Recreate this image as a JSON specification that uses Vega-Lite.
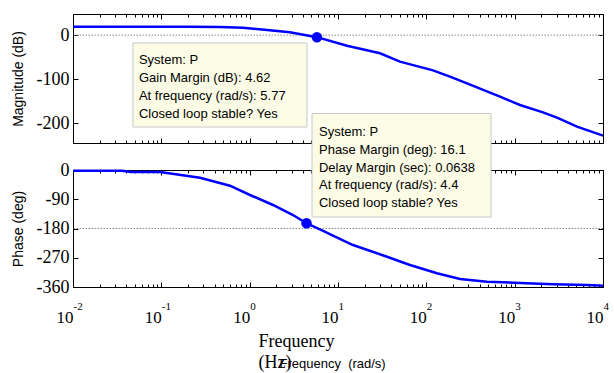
{
  "$schema": "https://vega.github.io/schema/vega-lite/v6.json",
  "autosize": {"type": "none"},
  "padding": {"left": 73, "top": 14, "right": 541, "bottom": 359},
  "background": "white",
  "bounds": "flush",
  "spacing": 27,
  "config": {
    "view": {"stroke": "black", "strokeWidth": 1},
    "axis": {"grid": false, "domain": false, "labelColor": "black", "titleColor": "black", "tickColor": "black", "tickWidth": 1, "labelFlush": false, "labelOverlap": false, "labelBound": false}
  },
  "datasets": {
    "mag": [
      {"f": 0.01, "db": 19.2}, {"f": 0.03, "db": 19.2}, {"f": 0.1, "db": 19.1}, {"f": 0.2, "db": 19.0},
      {"f": 0.461, "db": 18.4}, {"f": 0.84, "db": 16.9}, {"f": 1.571, "db": 11.7}, {"f": 2.86, "db": 6.5},
      {"f": 5.77, "db": -4.62}, {"f": 12.65, "db": -24}, {"f": 29.9, "db": -41.3}, {"f": 50.3, "db": -60.3},
      {"f": 119, "db": -80}, {"f": 185, "db": -94.3}, {"f": 288.7, "db": -109.4}, {"f": 682, "db": -139.8},
      {"f": 1149, "db": -158.7}, {"f": 2093, "db": -175.3}, {"f": 3014, "db": -187.5}, {"f": 5078, "db": -208},
      {"f": 10000, "db": -228.4}
    ],
    "phase": [
      {"f": 0.01, "deg": -2}, {"f": 0.036, "deg": -2}, {"f": 0.045, "deg": -6}, {"f": 0.097, "deg": -6.5},
      {"f": 0.274, "deg": -23.7}, {"f": 0.598, "deg": -48.3}, {"f": 1.009, "deg": -76.9}, {"f": 1.837, "deg": -107.7},
      {"f": 3.094, "deg": -138.5}, {"f": 4.4, "deg": -163.9}, {"f": 6.25, "deg": -183}, {"f": 8.77, "deg": -202},
      {"f": 14.79, "deg": -230.8}, {"f": 35.86, "deg": -266.8}, {"f": 65.3, "deg": -292.3}, {"f": 132.1, "deg": -317.8},
      {"f": 240.5, "deg": -335.4}, {"f": 486, "deg": -343.7}, {"f": 738, "deg": -345.5}, {"f": 1379, "deg": -348.6},
      {"f": 2716, "deg": -351.7}, {"f": 6590, "deg": -353.8}, {"f": 10000, "deg": -356}
    ],
    "gm": [{"f": 5.77, "db": -4.62}],
    "pm": [{"f": 4.4, "deg": -163.9}],
    "gmbox": [{"f1": 0.0477, "f2": 4.457, "top": -17.9, "bottom": -208.7}],
    "gmtext": [{"f": 0.0558, "v": -43.5, "label": "System: P\nGain Margin (dB): 4.62\nAt frequency (rad/s): 5.77\nClosed loop stable? Yes"}],
    "pmbox": [{"f1": 5.08, "f2": 540, "top": 173.8, "bottom": -144.6}],
    "pmtext": [{"f": 6.09, "v": 134.2, "label": "System: P\nPhase Margin (deg): 16.1\nDelay Margin (sec): 0.0638\nAt frequency (rad/s): 4.4\nClosed loop stable? Yes"}]
  },
  "vconcat": [
    {
      "width": 530,
      "height": 129,
      "resolve": {"scale": {"x": "shared", "y": "shared"}, "axis": {"x": "independent", "y": "independent"}},
      "layer": [
        {
          "data": {"values": [{"ref": 0}]},
          "mark": {"type": "rule", "color": "#8c8c8c", "strokeWidth": 1, "strokeDash": [1.5, 1.5]},
          "encoding": {"y": {"field": "ref", "type": "quantitative", "scale": {"domain": [-245, 48], "nice": false, "zero": false}, "axis": null}}
        },
        {
          "data": {"name": "mag"},
          "mark": {"type": "line", "color": "#0000ff", "strokeWidth": 2.5},
          "encoding": {
            "x": {"field": "f", "type": "quantitative", "scale": {"type": "log", "domain": [0.01, 10000], "nice": false},
              "axis": {"orient": "bottom", "labels": false, "title": null, "offset": -5, "tickSize": 5,
                "values": [0.01, 0.1, 1, 10, 100, 1000, 10000]}},
            "y": {"field": "db", "type": "quantitative", "scale": {"domain": [-245, 48], "nice": false, "zero": false},
              "axis": {"orient": "left", "values": [0, -100, -200], "offset": -5, "tickSize": 5, "labelExpr": "'' + datum.value",
                "labelFont": "Liberation Serif", "labelFontSize": 18, "labelPadding": 4,
                "title": "Magnitude (dB)", "titleFont": "Liberation Sans", "titleFontSize": 14, "titleFontWeight": "normal", "titlePadding": 11}}
          }
        },
        {
          "data": {"name": "gm"},
          "mark": {"type": "circle", "color": "#0000ff", "size": 110, "opacity": 1},
          "encoding": {
            "x": {"field": "f", "type": "quantitative", "scale": {"type": "log", "domain": [0.01, 10000], "nice": false},
              "axis": {"orient": "top", "labels": false, "title": null, "offset": -5, "tickSize": 5,
                "values": [0.01, 0.1, 1, 10, 100, 1000, 10000]}},
            "y": {"field": "db", "type": "quantitative", "scale": {"domain": [-245, 48], "nice": false, "zero": false},
              "axis": {"orient": "right", "values": [0, -100, -200], "labels": false, "offset": -5, "tickSize": 5, "title": null}}
          }
        },
        {
          "data": {"name": "gmbox"},
          "mark": {"type": "rect", "fill": "#fcfce6", "stroke": "#c8c8c8", "strokeWidth": 1},
          "encoding": {
            "x": {"field": "f1", "type": "quantitative", "scale": {"type": "log", "domain": [0.01, 10000], "nice": false},
              "axis": {"orient": "bottom", "labels": false, "title": null, "offset": -3, "tickSize": 3,
                "values": [0.02,0.03,0.04,0.05,0.06,0.07,0.08,0.09,0.2,0.3,0.4,0.5,0.6,0.7,0.8,0.9,2,3,4,5,6,7,8,9,20,30,40,50,60,70,80,90,200,300,400,500,600,700,800,900,2000,3000,4000,5000,6000,7000,8000,9000]}},
            "x2": {"field": "f2"},
            "y": {"field": "top", "type": "quantitative", "scale": {"domain": [-245, 48], "nice": false, "zero": false}, "axis": null},
            "y2": {"field": "bottom"}
          }
        },
        {
          "data": {"name": "gmtext"},
          "mark": {"type": "text", "align": "left", "baseline": "top", "font": "Liberation Sans", "fontSize": 13, "lineBreak": "\n", "lineHeight": 17.8, "color": "black"},
          "encoding": {
            "x": {"field": "f", "type": "quantitative", "scale": {"type": "log", "domain": [0.01, 10000], "nice": false},
              "axis": {"orient": "top", "labels": false, "title": null, "offset": -3, "tickSize": 3,
                "values": [0.02,0.03,0.04,0.05,0.06,0.07,0.08,0.09,0.2,0.3,0.4,0.5,0.6,0.7,0.8,0.9,2,3,4,5,6,7,8,9,20,30,40,50,60,70,80,90,200,300,400,500,600,700,800,900,2000,3000,4000,5000,6000,7000,8000,9000]}},
            "y": {"field": "v", "type": "quantitative", "scale": {"domain": [-245, 48], "nice": false, "zero": false}, "axis": null},
            "text": {"field": "label"}
          }
        }
      ]
    },
    {
      "width": 530,
      "height": 117,
      "resolve": {"scale": {"x": "shared", "y": "shared"}, "axis": {"x": "independent", "y": "independent"}},
      "layer": [
        {
          "data": {"values": [{"ref": -180}]},
          "mark": {"type": "rule", "color": "#8c8c8c", "strokeWidth": 1, "strokeDash": [1.5, 1.5]},
          "encoding": {"y": {"field": "ref", "type": "quantitative", "scale": {"domain": [-360, 0], "nice": false, "zero": false}, "axis": null}}
        },
        {
          "data": {"name": "phase"},
          "mark": {"type": "line", "color": "#0000ff", "strokeWidth": 2.5},
          "encoding": {
            "x": {"field": "f", "type": "quantitative", "scale": {"type": "log", "domain": [0.01, 10000], "nice": false},
              "axis": {"orient": "bottom", "values": [0.01, 0.1, 1, 10, 100, 1000, 10000], "offset": -5, "tickSize": 5, "labelExpr": "'10'",
                "labelFont": "Liberation Serif", "labelFontSize": 17, "labelAlign": "right", "labelDx": 2, "labelPadding": 22,
                "title": ["Frequency", "(Hz)"], "titleFont": "Liberation Serif", "titleFontSize": 18, "titleFontWeight": "normal",
                "titleX": 185, "titleY": 50, "titleAlign": "left", "titleAnchor": "start", "titleBaseline": "top", "titleLineHeight": 21}},
            "y": {"field": "deg", "type": "quantitative", "scale": {"domain": [-360, 0], "nice": false, "zero": false},
              "axis": {"orient": "left", "values": [0, -90, -180, -270, -360], "offset": -5, "tickSize": 5, "labelExpr": "'' + datum.value",
                "labelFont": "Liberation Serif", "labelFontSize": 18, "labelPadding": 4,
                "title": "Phase (deg)", "titleFont": "Liberation Sans", "titleFontSize": 14, "titleFontWeight": "normal", "titlePadding": 11}}
          }
        },
        {
          "data": {"name": "pm"},
          "mark": {"type": "circle", "color": "#0000ff", "size": 110, "opacity": 1},
          "encoding": {
            "x": {"field": "f", "type": "quantitative", "scale": {"type": "log", "domain": [0.01, 10000], "nice": false},
              "axis": {"orient": "bottom", "offset": -3, "tickSize": 3,
                "values": [0.01,0.02,0.03,0.04,0.05,0.06,0.07,0.08,0.09,0.1,0.2,0.3,0.4,0.5,0.6,0.7,0.8,0.9,1,2,3,4,5,6,7,8,9,10,20,30,40,50,60,70,80,90,100,200,300,400,500,600,700,800,900,1000,2000,3000,4000,5000,6000,7000,8000,9000,10000],
                "labelExpr": "indexof([0.01,0.1,1,10,100,1000,10000], datum.value) >= 0 ? '' + round(log(datum.value) / LN10) : ''",
                "labelFont": "Liberation Serif", "labelFontSize": 11, "labelAlign": "left", "labelDx": 2, "labelPadding": 13,
                "title": "Frequency\u00a0\u00a0(rad/s)", "titleFont": "Liberation Sans", "titleFontSize": 13, "titleFontWeight": "normal",
                "titleX": 206, "titleY": 73, "titleAlign": "left", "titleAnchor": "start", "titleBaseline": "top"}},
            "y": {"field": "deg", "type": "quantitative", "scale": {"domain": [-360, 0], "nice": false, "zero": false},
              "axis": {"orient": "right", "values": [0, -90, -180, -270, -360], "labels": false, "offset": -5, "tickSize": 5, "title": null}}
          }
        },
        {
          "data": {"name": "pmbox"},
          "mark": {"type": "rect", "fill": "#fcfce6", "stroke": "#c8c8c8", "strokeWidth": 1},
          "encoding": {
            "x": {"field": "f1", "type": "quantitative", "scale": {"type": "log", "domain": [0.01, 10000], "nice": false},
              "axis": {"orient": "top", "labels": false, "title": null, "offset": -5, "tickSize": 5,
                "values": [0.01, 0.1, 1, 10, 100, 1000, 10000]}},
            "x2": {"field": "f2"},
            "y": {"field": "top", "type": "quantitative", "scale": {"domain": [-360, 0], "nice": false, "zero": false}, "axis": null},
            "y2": {"field": "bottom"}
          }
        },
        {
          "data": {"name": "pmtext"},
          "mark": {"type": "text", "align": "left", "baseline": "top", "font": "Liberation Sans", "fontSize": 13, "lineBreak": "\n", "lineHeight": 17.7, "color": "black"},
          "encoding": {
            "x": {"field": "f", "type": "quantitative", "scale": {"type": "log", "domain": [0.01, 10000], "nice": false},
              "axis": {"orient": "top", "labels": false, "title": null, "offset": -3, "tickSize": 3,
                "values": [0.02,0.03,0.04,0.05,0.06,0.07,0.08,0.09,0.2,0.3,0.4,0.5,0.6,0.7,0.8,0.9,2,3,4,5,6,7,8,9,20,30,40,50,60,70,80,90,200,300,400,500,600,700,800,900,2000,3000,4000,5000,6000,7000,8000,9000]}},
            "y": {"field": "v", "type": "quantitative", "scale": {"domain": [-360, 0], "nice": false, "zero": false}, "axis": null},
            "text": {"field": "label"}
          }
        }
      ]
    }
  ]
}
